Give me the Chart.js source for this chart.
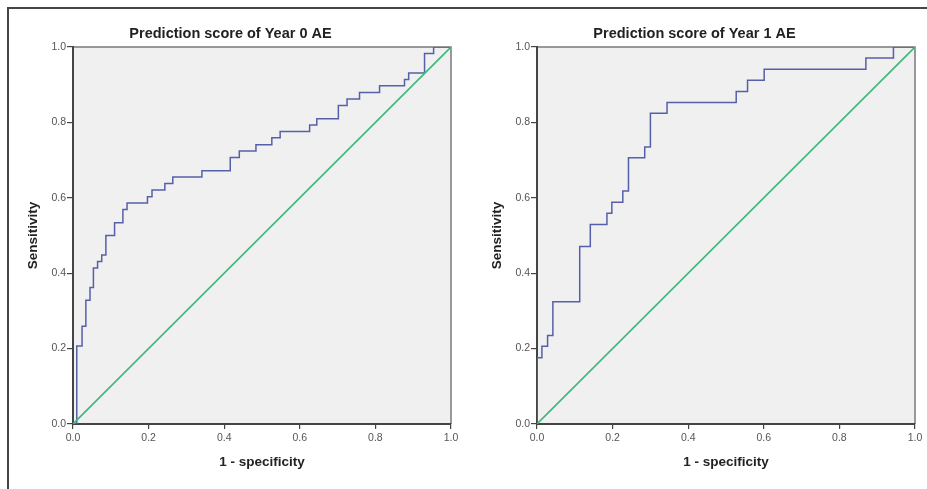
<!DOCTYPE html>
<html>
<head>
<meta charset="utf-8">
<script src="https://cdn.jsdelivr.net/npm/chart.js@4.4.1/dist/chart.umd.min.js"></script>
<style>
  html, body { margin: 0; padding: 0; background: #ffffff; }
  body { width: 927px; height: 489px; position: relative; overflow: hidden; }
  #frame { position: absolute; left: 7px; top: 7px; width: 940px; height: 500px;
           border-left: 2.5px solid #454545; border-top: 2.5px solid #454545; }
  canvas { position: absolute; }
</style>
</head>
<body>
<div id="frame"></div>
<canvas id="c0" width="449" height="479" style="left:10px; top:10px; width:449px; height:479px;"></canvas>
<canvas id="c1" width="449" height="479" style="left:474px; top:10px; width:449px; height:479px;"></canvas>
<script>
// ---- data ----
const chartTitles = ['Prediction score of Year 0 AE', 'Prediction score of Year 1 AE'];
const xAxisTitle = '1 - specificity';
const yAxisTitle = 'Sensitivity';
const tickValues = [0, 0.2, 0.4, 0.6, 0.8, 1.0];

// Year 0 ROC curve corners (1 - specificity, sensitivity)
const rocX0 = [0, 0.010, 0.010, 0.024, 0.024, 0.034, 0.034, 0.045, 0.045, 0.054, 0.054, 0.065, 0.065, 0.076, 0.076, 0.087, 0.087, 0.110, 0.110, 0.132, 0.132, 0.143, 0.143, 0.197, 0.197, 0.209, 0.209, 0.243, 0.243, 0.264, 0.264, 0.341, 0.341, 0.416, 0.416, 0.440, 0.440, 0.484, 0.484, 0.526, 0.526, 0.548, 0.548, 0.626, 0.626, 0.645, 0.645, 0.702, 0.702, 0.725, 0.725, 0.758, 0.758, 0.811, 0.811, 0.877, 0.877, 0.888, 0.888, 0.930, 0.930, 0.954, 0.954, 1.0];
const rocY0 = [0, 0, 0.207, 0.207, 0.259, 0.259, 0.328, 0.328, 0.362, 0.362, 0.414, 0.414, 0.431, 0.431, 0.448, 0.448, 0.500, 0.500, 0.534, 0.534, 0.569, 0.569, 0.586, 0.586, 0.603, 0.603, 0.621, 0.621, 0.638, 0.638, 0.655, 0.655, 0.672, 0.672, 0.707, 0.707, 0.724, 0.724, 0.741, 0.741, 0.759, 0.759, 0.776, 0.776, 0.793, 0.793, 0.810, 0.810, 0.845, 0.845, 0.862, 0.862, 0.879, 0.879, 0.897, 0.897, 0.914, 0.914, 0.931, 0.931, 0.983, 0.983, 1.0, 1.0];

// Year 1 ROC curve corners
const rocX1 = [0, 0, 0.013, 0.013, 0.028, 0.028, 0.042, 0.042, 0.113, 0.113, 0.141, 0.141, 0.185, 0.185, 0.198, 0.198, 0.227, 0.227, 0.242, 0.242, 0.285, 0.285, 0.300, 0.300, 0.344, 0.344, 0.527, 0.527, 0.557, 0.557, 0.601, 0.601, 0.870, 0.870, 0.943, 0.943, 1.0];
const rocY1 = [0, 0.176, 0.176, 0.206, 0.206, 0.235, 0.235, 0.324, 0.324, 0.471, 0.471, 0.529, 0.529, 0.559, 0.559, 0.588, 0.588, 0.618, 0.618, 0.706, 0.706, 0.735, 0.735, 0.824, 0.824, 0.853, 0.853, 0.882, 0.882, 0.912, 0.912, 0.941, 0.941, 0.971, 0.971, 1.0, 1.0];

// Reference diagonal
const diagX = [0, 1];
const diagY = [0, 1];

// ---- chart construction ----
const FONT = "'Liberation Sans', Arial, sans-serif";

function toPoints(xs, ys) { return xs.map((x, i) => ({ x: x, y: ys[i] })); }

const plotBg = {
  id: 'plotBg',
  beforeDraw(chart) {
    const { ctx, chartArea: a } = chart;
    ctx.save();
    ctx.fillStyle = '#f0f0f0';
    ctx.fillRect(a.left, a.top, a.right - a.left, a.bottom - a.top);
    ctx.strokeStyle = '#7a7a7a';
    ctx.lineWidth = 1.5;
    ctx.beginPath();
    ctx.moveTo(a.left, a.top);
    ctx.lineTo(a.right, a.top);
    ctx.lineTo(a.right, a.bottom);
    ctx.stroke();
    ctx.restore();
  }
};

function makeChart(id, title, xs, ys) {
  return new Chart(document.getElementById(id), {
    type: 'line',
    data: {
      datasets: [
        { data: toPoints(diagX, diagY), borderColor: '#3dba7a', borderWidth: 1.6,
          pointRadius: 0, tension: 0, fill: false },
        { data: toPoints(xs, ys), borderColor: '#5660a8', borderWidth: 1.5,
          pointRadius: 0, tension: 0, fill: false }
      ]
    },
    options: {
      responsive: false,
      animation: false,
      events: [],
      layout: { padding: { left: 0, right: 8, top: 0, bottom: 0 } },
      plugins: {
        legend: { display: false },
        tooltip: { enabled: false },
        title: {
          display: true, text: title, color: '#222',
          font: { family: FONT, size: 14.5, weight: 'bold' },
          padding: { top: 15.3, bottom: 4.3 }
        }
      },
      scales: {
        x: {
          type: 'linear', min: 0, max: 1,
          afterBuildTicks(scale) { scale.ticks = tickValues.map(v => ({ value: v })); },
          afterFit(scale) { scale.height = 65; scale.paddingLeft = 0; scale.paddingRight = 0; },
          ticks: { color: '#555', font: { family: FONT, size: 10.5 }, padding: 3,
                   maxRotation: 0, autoSkip: false,
                   callback: v => Number(v).toFixed(1) },
          grid: { display: true, drawOnChartArea: false, drawTicks: true, tickLength: 5,
                  color: '#444', lineWidth: 1.2 },
          border: { display: true, color: '#444', width: 2 },
          title: { display: true, text: xAxisTitle, color: '#222',
                   font: { family: FONT, size: 13.5, weight: 'bold' },
                   padding: { top: 0, bottom: 18.9 } }
        },
        y: {
          type: 'linear', min: 0, max: 1,
          afterBuildTicks(scale) { scale.ticks = tickValues.map(v => ({ value: v })); },
          afterFit(scale) { scale.width = 63; scale.paddingTop = 0; scale.paddingBottom = 0; },
          ticks: { color: '#555', font: { family: FONT, size: 10.5 }, padding: 1,
                   autoSkip: false, callback: v => Number(v).toFixed(1) },
          grid: { display: true, drawOnChartArea: false, drawTicks: true, tickLength: 6,
                  color: '#444', lineWidth: 1.2 },
          border: { display: true, color: '#444', width: 2 },
          title: { display: true, text: yAxisTitle, color: '#222',
                   font: { family: FONT, size: 13.5, weight: 'bold' },
                   padding: { top: 14.9, bottom: 0 } }
        }
      }
    },
    plugins: [plotBg]
  });
}

makeChart('c0', chartTitles[0], rocX0, rocY0);
makeChart('c1', chartTitles[1], rocX1, rocY1);
</script>
</body>
</html>
